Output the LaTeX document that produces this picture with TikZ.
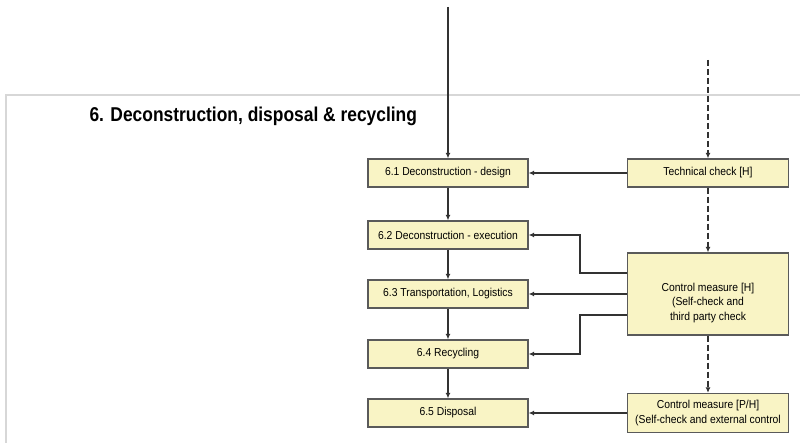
\documentclass[tikz,border=0pt]{standalone}
\usepackage{fontspec}
\setmainfont[FakeStretch=0.9]{Liberation Sans}
\newfontfamily\titlefont[FakeStretch=0.87]{Liberation Sans}
\usetikzlibrary{arrows.meta}
\definecolor{boxfill}{RGB}{249,244,197}
\definecolor{boxline}{RGB}{90,90,90}
\definecolor{wire}{RGB}{50,50,50}
\definecolor{frame}{RGB}{215,215,215}
\begin{document}
\begin{tikzpicture}[x=1pt,y=-1pt,
  boxtext/.style={font=\fontsize{11.5}{14.5}\selectfont,align=center},
  stepbox/.style={draw=boxline,line width=1.3pt,fill=boxfill,inner sep=0pt,
    minimum width=160pt,minimum height=28pt,boxtext},
  checkbox/.style={stepbox,minimum width=161pt},
  flow/.style={draw=wire,line width=1.8pt,-{Latex[length=5.5pt,width=5pt]}},
  dflow/.style={flow,dash pattern=on 6pt off 3pt}]
\useasboundingbox (0,0) rectangle (800,443);
% panel frame
\draw[frame,line width=1.5pt] (800,95) -- (6,95) -- (6,443);
\node[anchor=base west,font=\titlefont\fontsize{20}{24}\selectfont\bfseries] (title) at (86,122) {6. Deconstruction, disposal \& recycling};
% process steps
\node[stepbox] (s1) at (448,173) {6.1 Deconstruction - design};
\node[stepbox] (s2) at (448,235) {6.2 Deconstruction - execution};
\node[stepbox] (s3) at (448,294) {6.3 Transportation, Logistics};
\node[stepbox] (s4) at (448,354) {6.4 Recycling};
\node[stepbox] (s5) at (448,413) {6.5 Disposal};
% checks
\node[checkbox] (tc) at (708,173) {Technical check [H]};
\node[checkbox,minimum height=82pt,
  label={[boxtext,yshift=-9pt]center:Control measure [H]\\(Self-check and\\third party check}] (cmh) at (708,294) {};
\node[checkbox,minimum height=39pt] (cmp) at (708,413) {Control measure [P/H]\\(Self-check and external control};
% incoming lines
\coordinate (inL) at (448,7);
\coordinate (inR) at (708,60);
\draw[flow] (inL) -- (s1);
\draw[dflow] (inR) -- (tc);
% main chain
\draw[flow] (s1) -- (s2);
\draw[flow] (s2) -- (s3);
\draw[flow] (s3) -- (s4);
\draw[flow] (s4) -- (s5);
% check chain
\draw[dflow] (tc) -- (cmh);
\draw[dflow] (cmh) -- (cmp);
% feedback to steps
\draw[flow] (tc) -- (s1);
\draw[flow] (cmh.west |- 0,273) -| (580,235) -- (s2.east);
\draw[flow] (cmh.west |- s3) -- (s3.east);
\draw[flow] (cmh.west |- 0,315) -| (580,354) -- (s4.east);
\draw[flow] (cmp) -- (s5);
\end{tikzpicture}
\end{document}
